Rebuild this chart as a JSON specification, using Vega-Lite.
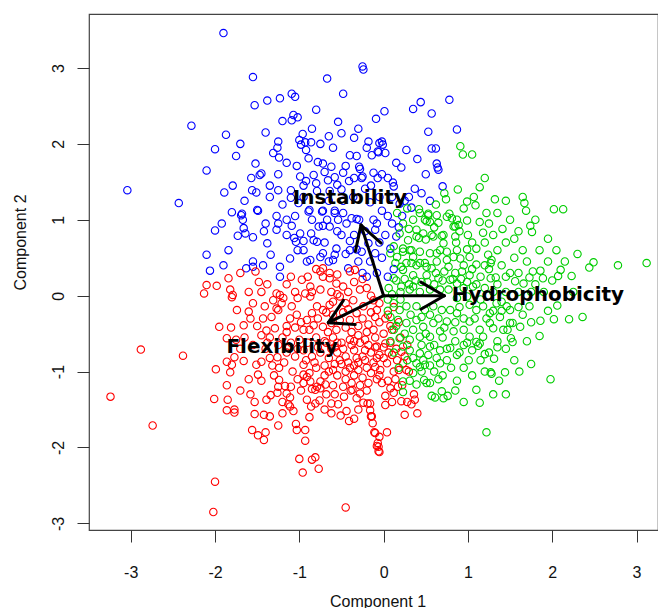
{
"$schema": "https://vega.github.io/schema/vega-lite/v6.json",
"width": 569, "height": 516,
"autosize": {"type": "none"},
"padding": {"left": 89, "top": 14, "right": 0, "bottom": 78},
"background": "white",
"config": {"view": {"stroke": "#444", "strokeWidth": 1.2}},
"encoding": {
  "x": {"field": "x", "type": "quantitative", "scale": {"domain": [-3.495, 3.255], "nice": false, "zero": false},
    "axis": {"values": [-3,-2,-1,0,1,2,3], "labelExpr": "'' + datum.value", "domain": false, "grid": false, "tickSize": 12, "tickColor": "#333", "tickWidth": 1,
      "labelFont": "Liberation Sans", "labelFontSize": 16, "labelColor": "#111", "labelPadding": 22, "labelFlush": false,
      "title": "Component 1", "titleFont": "Liberation Sans", "titleFontSize": 16, "titleFontWeight": "normal", "titleColor": "#111",
      "titleX": 288.5, "titleY": 71, "titleBaseline": "middle", "titleAlign": "center"}},
  "y": {"field": "y", "type": "quantitative", "scale": {"domain": [-3.087, 3.711], "nice": false, "zero": false},
    "axis": {"values": [-3,-2,-1,0,1,2,3], "labelExpr": "'' + datum.value", "domain": false, "grid": false, "tickSize": 12, "tickColor": "#333", "tickWidth": 1,
      "labelFont": "Liberation Sans", "labelFontSize": 16, "labelColor": "#111", "labelAngle": 270, "labelAlign": "center", "labelBaseline": "bottom", "labelPadding": 11, "labelFlush": false,
      "title": "Component 2", "titleFont": "Liberation Sans", "titleFontSize": 16, "titleFontWeight": "normal", "titleColor": "#111",
      "titleAngle": 270, "titleX": -69, "titleY": 228, "titleBaseline": "middle", "titleAlign": "center"}}
},
"layer": [
{
"data": {"values": [
{"g":"b","x":-1.90,"y":3.46},{"g":"b","x":-1.55,"y":2.88},{"g":"b","x":-0.67,"y":2.86},{"g":"b","x":-0.25,"y":3.02},{"g":"b","x":-0.24,"y":2.98},
{"g":"b","x":-0.48,"y":2.66},{"g":"b","x":-1.09,"y":2.66},{"g":"b","x":-1.05,"y":2.62},{"g":"b","x":-1.23,"y":2.60},{"g":"b","x":-1.38,"y":2.57},
{"g":"b","x":-1.53,"y":2.51},{"g":"b","x":-2.28,"y":2.24},{"g":"b","x":-1.07,"y":2.38},{"g":"b","x":-1.09,"y":2.31},{"g":"b","x":-1.02,"y":2.35},
{"g":"b","x":-0.54,"y":2.29},{"g":"b","x":-0.50,"y":2.14},{"g":"b","x":-0.09,"y":2.33},{"g":"b","x":-1.87,"y":2.12},{"g":"b","x":-2.00,"y":1.93},
{"g":"b","x":-1.75,"y":1.84},{"g":"b","x":-1.25,"y":2.03},{"g":"b","x":-1.26,"y":1.95},{"g":"b","x":-1.31,"y":1.88},{"g":"b","x":-1.24,"y":1.82},
{"g":"b","x":-0.96,"y":2.13},{"g":"b","x":-1.00,"y":2.05},{"g":"b","x":-0.93,"y":2.02},{"g":"b","x":-0.86,"y":2.02},{"g":"b","x":-0.98,"y":1.99},
{"g":"b","x":-0.92,"y":1.92},{"g":"b","x":-0.89,"y":1.81},{"g":"b","x":-0.78,"y":1.76},{"g":"b","x":-0.72,"y":1.74},{"g":"b","x":-0.18,"y":2.03},
{"g":"b","x":-0.05,"y":2.01},{"g":"b","x":-0.14,"y":1.85},{"g":"b","x":-0.07,"y":1.90},{"g":"b","x":-0.32,"y":1.84},{"g":"b","x":-0.29,"y":1.70},
{"g":"b","x":-0.28,"y":1.67},{"g":"b","x":-0.45,"y":1.71},{"g":"b","x":-0.48,"y":1.62},{"g":"b","x":-0.25,"y":1.57},{"g":"b","x":-0.26,"y":1.55},
{"g":"b","x":-0.41,"y":1.51},{"g":"b","x":-0.58,"y":1.56},{"g":"b","x":-0.55,"y":1.46},{"g":"b","x":-0.66,"y":1.52},{"g":"b","x":-0.83,"y":1.59},
{"g":"b","x":-0.92,"y":1.51},{"g":"b","x":-0.99,"y":1.57},{"g":"b","x":-1.03,"y":1.71},{"g":"b","x":-1.25,"y":1.60},{"g":"b","x":-1.25,"y":1.39},
{"g":"b","x":-1.52,"y":1.74},{"g":"b","x":-1.45,"y":1.61},{"g":"b","x":-1.47,"y":1.59},{"g":"b","x":-1.57,"y":1.55},{"g":"b","x":-1.79,"y":1.45},
{"g":"b","x":-1.56,"y":1.39},{"g":"b","x":-1.51,"y":1.36},{"g":"b","x":-1.89,"y":1.36},{"g":"b","x":-3.04,"y":1.39},{"g":"b","x":-2.43,"y":1.22},
{"g":"b","x":-1.10,"y":1.39},{"g":"b","x":-1.10,"y":1.29},{"g":"b","x":-1.01,"y":1.22},{"g":"b","x":-0.79,"y":1.38},{"g":"b","x":-0.64,"y":1.38},
{"g":"b","x":-0.22,"y":1.41},{"g":"b","x":-0.16,"y":1.23},{"g":"b","x":-0.48,"y":1.25},{"g":"b","x":-0.36,"y":1.30},{"g":"b","x":-1.50,"y":1.13},
{"g":"b","x":-1.68,"y":1.08},{"g":"b","x":-0.88,"y":1.13},{"g":"b","x":-0.72,"y":1.12},{"g":"b","x":-0.58,"y":1.12},{"g":"b","x":0.78,"y":2.58},
{"g":"b","x":0.44,"y":2.55},{"g":"b","x":0.35,"y":2.46},{"g":"b","x":0.57,"y":2.40},{"g":"b","x":0.01,"y":2.43},{"g":"b","x":0.53,"y":2.16},
{"g":"b","x":0.87,"y":2.19},{"g":"b","x":-0.02,"y":2.03},{"g":"b","x":-0.01,"y":1.99},{"g":"b","x":-0.06,"y":1.89},{"g":"b","x":0.02,"y":1.88},
{"g":"b","x":0.27,"y":1.92},{"g":"b","x":0.57,"y":1.94},{"g":"b","x":0.62,"y":1.94},{"g":"b","x":0.63,"y":1.74},{"g":"b","x":0.64,"y":1.69},
{"g":"b","x":0.65,"y":1.66},{"g":"b","x":0.21,"y":1.69},{"g":"b","x":-0.02,"y":1.60},{"g":"b","x":-0.07,"y":1.55},{"g":"b","x":0.11,"y":1.49},
{"g":"b","x":0.12,"y":1.44},{"g":"b","x":0.37,"y":1.41},{"g":"b","x":0.70,"y":1.44},{"g":"b","x":0.30,"y":1.30},{"g":"b","x":0.33,"y":1.16},
{"g":"b","x":0.19,"y":1.21},{"g":"b","x":-1.69,"y":1.06},{"g":"b","x":-1.67,"y":1.00},{"g":"b","x":-1.66,"y":0.89},{"g":"b","x":-1.64,"y":0.82},
{"g":"b","x":-1.73,"y":0.79},{"g":"b","x":-1.55,"y":0.77},{"g":"b","x":-1.49,"y":1.12},{"g":"b","x":-1.42,"y":0.85},{"g":"b","x":-1.38,"y":0.69},
{"g":"b","x":-1.34,"y":0.54},{"g":"b","x":-1.27,"y":1.05},{"g":"b","x":-1.25,"y":0.95},{"g":"b","x":-1.27,"y":0.87},{"g":"b","x":-1.15,"y":1.00},
{"g":"b","x":-1.09,"y":0.92},{"g":"b","x":-1.06,"y":0.76},{"g":"b","x":-1.04,"y":0.71},{"g":"b","x":-1.02,"y":0.60},{"g":"b","x":-0.99,"y":0.82},
{"g":"b","x":-0.95,"y":0.72},{"g":"b","x":-0.89,"y":1.11},{"g":"b","x":-0.86,"y":0.82},{"g":"b","x":-0.83,"y":0.73},{"g":"b","x":-0.79,"y":0.71},
{"g":"b","x":-0.73,"y":1.11},{"g":"b","x":-0.77,"y":0.91},{"g":"b","x":-0.72,"y":0.92},{"g":"b","x":-0.67,"y":1.00},{"g":"b","x":-0.64,"y":0.91},
{"g":"b","x":-0.58,"y":1.09},{"g":"b","x":-0.54,"y":1.00},{"g":"b","x":-0.48,"y":1.09},{"g":"b","x":-0.44,"y":0.95},{"g":"b","x":-0.38,"y":1.02},
{"g":"b","x":-0.32,"y":1.01},{"g":"b","x":-0.29,"y":1.00},{"g":"b","x":-0.56,"y":0.62},{"g":"b","x":-0.58,"y":0.54},{"g":"b","x":-0.60,"y":0.47},
{"g":"b","x":-0.65,"y":0.45},{"g":"b","x":-0.72,"y":0.56},{"g":"b","x":-0.75,"y":0.51},{"g":"b","x":-0.87,"y":0.47},{"g":"b","x":-0.91,"y":0.45},
{"g":"b","x":-1.11,"y":0.49},{"g":"b","x":-1.23,"y":0.38},{"g":"b","x":-1.23,"y":0.25},{"g":"b","x":-1.43,"y":0.40},{"g":"b","x":-1.55,"y":0.45},
{"g":"b","x":-1.55,"y":0.38},{"g":"b","x":-1.63,"y":0.36},{"g":"b","x":-1.84,"y":0.60},{"g":"b","x":-1.90,"y":0.40},{"g":"b","x":-2.06,"y":0.33},
{"g":"b","x":-2.10,"y":0.54},{"g":"b","x":-2.00,"y":0.86},{"g":"b","x":-1.92,"y":0.95},{"g":"b","x":-0.42,"y":0.36},{"g":"b","x":-0.32,"y":0.61},
{"g":"b","x":-0.26,"y":0.58},{"g":"b","x":-0.18,"y":0.69},{"g":"b","x":-0.16,"y":0.45},{"g":"b","x":-0.10,"y":0.56},{"g":"b","x":-0.12,"y":1.00},
{"g":"b","x":-0.08,"y":0.95},{"g":"b","x":-0.10,"y":0.87},{"g":"b","x":0.05,"y":1.05},{"g":"b","x":0.10,"y":0.95},{"g":"b","x":0.02,"y":0.80},
{"g":"b","x":-0.05,"y":0.70},{"g":"b","x":0.08,"y":0.62},{"g":"b","x":-0.02,"y":0.50},{"g":"b","x":0.12,"y":0.35},{"g":"b","x":0.05,"y":0.25},
{"g":"b","x":-0.08,"y":0.30},{"g":"b","x":-0.20,"y":0.25},{"g":"b","x":0.15,"y":0.78},{"g":"b","x":0.22,"y":1.05},{"g":"b","x":0.18,"y":0.90},
{"g":"b","x":-0.22,"y":0.85},{"g":"b","x":-0.35,"y":0.80},{"g":"b","x":-0.40,"y":0.72},{"g":"b","x":-0.50,"y":0.80},{"g":"b","x":-0.30,"y":0.45},
{"g":"b","x":-0.45,"y":0.55},{"g":"b","x":0.25,"y":1.25},{"g":"b","x":-0.95,"y":1.30},{"g":"b","x":-1.20,"y":1.20},{"g":"b","x":-0.65,"y":1.25},
{"g":"b","x":-0.85,"y":1.00},{"g":"b","x":-1.35,"y":1.30},{"g":"b","x":-0.40,"y":1.85},{"g":"b","x":-0.60,"y":1.95},{"g":"b","x":-0.75,"y":2.00},
{"g":"b","x":-0.20,"y":1.95},{"g":"b","x":-1.15,"y":1.75},{"g":"b","x":-0.70,"y":1.63},{"g":"b","x":-0.12,"y":1.62},{"g":"b","x":-0.35,"y":2.08},
{"g":"b","x":-0.85,"y":2.20},{"g":"b","x":-1.40,"y":2.15},{"g":"b","x":-0.02,"y":1.12},{"g":"b","x":0.10,"y":1.30},
{"g":"b","x":-0.95,"y":1.45},{"g":"b","x":-0.80,"y":1.48},{"g":"b","x":-0.62,"y":1.70},{"g":"b","x":-0.50,"y":1.40},{"g":"b","x":-0.35,"y":1.55},
{"g":"b","x":-0.15,"y":1.45},{"g":"b","x":-0.05,"y":1.30},{"g":"b","x":0.05,"y":1.55},{"g":"b","x":0.15,"y":1.75},{"g":"b","x":0.40,"y":1.80},
{"g":"b","x":0.50,"y":1.60},{"g":"b","x":0.45,"y":1.35},{"g":"b","x":0.55,"y":1.25},{"g":"b","x":-1.35,"y":1.45},{"g":"b","x":-1.65,"y":1.25},
{"g":"b","x":-1.80,"y":1.10},{"g":"b","x":-1.40,"y":0.95},{"g":"b","x":-1.15,"y":0.80},{"g":"b","x":-0.95,"y":0.60},{"g":"b","x":-0.70,"y":0.70},
{"g":"b","x":-0.55,"y":0.85},{"g":"b","x":-0.40,"y":0.60},{"g":"b","x":-0.25,"y":0.30},{"g":"b","x":-1.05,"y":1.05},{"g":"b","x":-0.65,"y":2.10},
{"g":"b","x":-0.30,"y":2.20},{"g":"b","x":-1.20,"y":2.30},{"g":"b","x":-0.80,"y":2.45},{"g":"b","x":-1.70,"y":2.00},{"g":"b","x":-2.10,"y":1.65},
{"g":"r","x":-2.88,"y":-0.71},{"g":"r","x":-2.38,"y":-0.79},{"g":"r","x":-3.24,"y":-1.33},{"g":"r","x":-2.74,"y":-1.71},{"g":"r","x":-2.00,"y":-2.45},
{"g":"r","x":-2.02,"y":-2.85},{"g":"r","x":-0.45,"y":-2.79},{"g":"r","x":-1.99,"y":-0.97},{"g":"r","x":-2.01,"y":-1.36},{"g":"r","x":-1.86,"y":-1.18},
{"g":"r","x":-1.85,"y":-1.37},{"g":"r","x":-1.86,"y":-1.51},{"g":"r","x":-1.77,"y":-1.50},{"g":"r","x":-1.77,"y":-1.54},{"g":"r","x":-1.86,"y":-0.87},
{"g":"r","x":-1.80,"y":-0.91},{"g":"r","x":-1.82,"y":-1.01},{"g":"r","x":-1.77,"y":-0.81},{"g":"r","x":-1.66,"y":-0.86},{"g":"r","x":-1.53,"y":-1.40},
{"g":"r","x":-1.53,"y":-1.56},{"g":"r","x":-1.56,"y":-1.77},{"g":"r","x":-1.49,"y":-1.84},{"g":"r","x":-1.42,"y":-1.90},{"g":"r","x":-1.40,"y":-1.80},
{"g":"r","x":-1.42,"y":-1.57},{"g":"r","x":-1.35,"y":-1.59},{"g":"r","x":-1.39,"y":-1.37},{"g":"r","x":-1.34,"y":-1.31},{"g":"r","x":-1.25,"y":-1.71},
{"g":"r","x":-1.26,"y":-1.28},{"g":"r","x":-1.51,"y":-0.91},{"g":"r","x":-1.45,"y":-0.87},{"g":"r","x":-1.49,"y":-1.04},{"g":"r","x":-1.45,"y":-1.12},
{"g":"r","x":-1.35,"y":-0.82},{"g":"r","x":-1.24,"y":-0.95},{"g":"r","x":-1.24,"y":-1.11},{"g":"r","x":-1.17,"y":-1.19},{"g":"r","x":-1.26,"y":-0.81},
{"g":"r","x":-1.08,"y":-1.00},{"g":"r","x":-1.15,"y":-1.29},{"g":"r","x":-1.11,"y":-1.34},{"g":"r","x":-1.13,"y":-1.43},{"g":"r","x":-1.11,"y":-1.46},
{"g":"r","x":-1.07,"y":-1.52},{"g":"r","x":-1.04,"y":-1.69},{"g":"r","x":-1.03,"y":-1.77},{"g":"r","x":-0.93,"y":-1.77},{"g":"r","x":-0.93,"y":-1.91},
{"g":"r","x":-1.00,"y":-2.15},{"g":"r","x":-0.96,"y":-2.33},{"g":"r","x":-0.85,"y":-2.16},{"g":"r","x":-0.81,"y":-2.13},{"g":"r","x":-0.77,"y":-2.28},
{"g":"r","x":-0.91,"y":-1.37},{"g":"r","x":-0.86,"y":-1.46},{"g":"r","x":-0.81,"y":-1.42},{"g":"r","x":-0.76,"y":-1.38},{"g":"r","x":-0.95,"y":-1.04},
{"g":"r","x":-0.91,"y":-1.07},{"g":"r","x":-0.87,"y":-1.13},{"g":"r","x":-0.85,"y":-1.23},{"g":"r","x":-0.79,"y":-1.20},{"g":"r","x":-0.81,"y":-1.24},
{"g":"r","x":-0.75,"y":-1.13},{"g":"r","x":-0.95,"y":-0.91},{"g":"r","x":-0.69,"y":-1.17},{"g":"r","x":-0.60,"y":-1.18},{"g":"r","x":-0.58,"y":-1.30},
{"g":"r","x":-0.54,"y":-1.43},{"g":"r","x":-0.51,"y":-1.58},{"g":"r","x":-0.44,"y":-1.52},{"g":"r","x":-0.41,"y":-1.65},{"g":"r","x":-0.47,"y":-1.33},
{"g":"r","x":-0.39,"y":-1.25},{"g":"r","x":-0.37,"y":-1.24},{"g":"r","x":-0.28,"y":-1.29},{"g":"r","x":-0.24,"y":-1.41},{"g":"r","x":-0.19,"y":-1.42},
{"g":"r","x":-0.16,"y":-1.51},{"g":"r","x":-0.15,"y":-1.59},{"g":"r","x":-0.13,"y":-1.68},{"g":"r","x":-0.10,"y":-1.81},{"g":"r","x":-0.07,"y":-1.94},
{"g":"r","x":-0.06,"y":-2.05},{"g":"r","x":-0.08,"y":-1.98},{"g":"r","x":0.40,"y":-1.55},{"g":"r","x":0.25,"y":-1.57},{"g":"r","x":0.33,"y":-1.43},
{"g":"r","x":0.37,"y":-1.37},{"g":"r","x":0.36,"y":-1.30},{"g":"r","x":0.21,"y":-1.39},{"g":"r","x":0.10,"y":-1.40},{"g":"r","x":0.02,"y":-1.44},
{"g":"r","x":0.02,"y":-1.32},{"g":"r","x":0.04,"y":-1.80},{"g":"r","x":-0.05,"y":-1.86},{"g":"r","x":-0.06,"y":-1.99},{"g":"r","x":-0.05,"y":-2.06},
{"g":"r","x":-0.11,"y":-1.80},{"g":"r","x":-0.14,"y":-1.59},{"g":"r","x":-0.16,"y":-1.42},{"g":"r","x":0.17,"y":-1.20},{"g":"r","x":0.08,"y":-1.22},
{"g":"r","x":-0.02,"y":-1.15},{"g":"r","x":0.14,"y":-1.10},{"g":"r","x":-0.04,"y":-0.98},{"g":"r","x":-0.10,"y":-0.94},{"g":"r","x":0.04,"y":-0.89},
{"g":"r","x":0.12,"y":-1.00},{"g":"r","x":0.23,"y":-0.89},{"g":"r","x":0.27,"y":-0.98},{"g":"r","x":0.21,"y":-0.74},{"g":"r","x":0.10,"y":-0.78},
{"g":"r","x":0.00,"y":-0.82},{"g":"r","x":-0.08,"y":-0.67},{"g":"r","x":0.02,"y":-0.63},{"g":"r","x":-2.10,"y":0.14},{"g":"r","x":-2.13,"y":0.03},
{"g":"r","x":-1.98,"y":0.13},{"g":"r","x":-1.84,"y":0.23},{"g":"r","x":-1.82,"y":0.08},{"g":"r","x":-1.79,"y":0.01},{"g":"r","x":-1.80,"y":-0.02},
{"g":"r","x":-1.70,"y":0.30},{"g":"r","x":-1.52,"y":0.32},{"g":"r","x":-1.48,"y":0.18},{"g":"r","x":-1.74,"y":-0.19},{"g":"r","x":-1.60,"y":-0.21},
{"g":"r","x":-1.66,"y":-0.39},{"g":"r","x":-1.81,"y":-0.42},{"g":"r","x":-1.95,"y":-0.41},{"g":"r","x":-1.75,"y":-0.58},{"g":"r","x":-1.86,"y":-0.56},
{"g":"r","x":-1.41,"y":-0.14},{"g":"r","x":-1.43,"y":-0.30},{"g":"r","x":-1.33,"y":-0.28},{"g":"r","x":-1.31,"y":-0.06},{"g":"r","x":-1.27,"y":0.03},
{"g":"r","x":-1.23,"y":0.01},{"g":"r","x":-1.19,"y":-0.03},{"g":"r","x":-1.21,"y":-0.10},{"g":"r","x":-1.27,"y":-0.17},{"g":"r","x":-1.25,"y":-0.19},
{"g":"r","x":-1.39,"y":-0.46},{"g":"r","x":-1.29,"y":-0.43},{"g":"r","x":-1.15,"y":-0.40},{"g":"r","x":-1.11,"y":-0.30},{"g":"r","x":-1.03,"y":-0.25},
{"g":"r","x":-1.02,"y":-0.03},{"g":"r","x":-1.09,"y":-0.14},{"g":"r","x":-0.97,"y":0.21},{"g":"r","x":-0.87,"y":0.12},{"g":"r","x":-0.93,"y":0.03},
{"g":"r","x":-0.87,"y":-0.01},{"g":"r","x":-0.75,"y":0.08},{"g":"r","x":-0.72,"y":0.25},{"g":"r","x":-0.64,"y":0.23},{"g":"r","x":-0.56,"y":0.16},
{"g":"r","x":-0.48,"y":0.12},{"g":"r","x":-0.52,"y":-0.01},{"g":"r","x":-0.64,"y":-0.12},{"g":"r","x":-0.72,"y":-0.19},{"g":"r","x":-0.79,"y":-0.14},
{"g":"r","x":-0.85,"y":-0.23},{"g":"r","x":-0.91,"y":-0.32},{"g":"r","x":-0.95,"y":-0.45},{"g":"r","x":-0.83,"y":-0.39},{"g":"r","x":-0.72,"y":-0.41},
{"g":"r","x":-0.62,"y":-0.36},{"g":"r","x":-0.52,"y":-0.32},{"g":"r","x":-0.40,"y":-0.32},{"g":"r","x":-0.32,"y":-0.23},{"g":"r","x":-0.24,"y":-0.14},
{"g":"r","x":-0.36,"y":-0.06},{"g":"r","x":-0.28,"y":0.08},{"g":"r","x":-0.20,"y":0.10},{"g":"r","x":-0.42,"y":0.05},{"g":"r","x":-0.12,"y":-0.06},
{"g":"r","x":-0.08,"y":-0.19},{"g":"r","x":-0.72,"y":0.36},{"g":"r","x":-0.64,"y":0.30},{"g":"r","x":-0.75,"y":0.32},{"g":"r","x":-0.40,"y":0.32},
{"g":"r","x":-0.34,"y":0.34},{"g":"r","x":-1.20,"y":-0.55},{"g":"r","x":-1.10,"y":-0.62},{"g":"r","x":-1.00,"y":-0.58},{"g":"r","x":-0.90,"y":-0.62},
{"g":"r","x":-0.80,"y":-0.55},{"g":"r","x":-0.70,"y":-0.60},{"g":"r","x":-0.60,"y":-0.55},{"g":"r","x":-0.50,"y":-0.62},{"g":"r","x":-0.40,"y":-0.58},
{"g":"r","x":-0.30,"y":-0.52},{"g":"r","x":-0.20,"y":-0.48},{"g":"r","x":-0.10,"y":-0.55},{"g":"r","x":0.00,"y":-0.50},{"g":"r","x":0.10,"y":-0.45},
{"g":"r","x":0.20,"y":-0.55},{"g":"r","x":-1.15,"y":-0.75},{"g":"r","x":-1.05,"y":-0.80},{"g":"r","x":-0.95,"y":-0.72},{"g":"r","x":-0.85,"y":-0.80},
{"g":"r","x":-0.75,"y":-0.75},{"g":"r","x":-0.65,"y":-0.82},{"g":"r","x":-0.55,"y":-0.75},{"g":"r","x":-0.45,"y":-0.80},{"g":"r","x":-0.35,"y":-0.72},
{"g":"r","x":-0.25,"y":-0.80},{"g":"r","x":-0.15,"y":-0.75},{"g":"r","x":-0.05,"y":-0.78},{"g":"r","x":0.15,"y":-0.70},{"g":"r","x":0.28,"y":-0.65},
{"g":"r","x":-0.70,"y":-0.92},{"g":"r","x":-0.60,"y":-0.98},{"g":"r","x":-0.50,"y":-0.90},{"g":"r","x":-0.40,"y":-0.95},{"g":"r","x":-0.30,"y":-0.88},
{"g":"r","x":-0.20,"y":-0.95},{"g":"r","x":-0.12,"y":-0.88},{"g":"r","x":-0.35,"y":-1.05},{"g":"r","x":-0.25,"y":-1.08},{"g":"r","x":-0.15,"y":-1.02},
{"g":"r","x":-0.45,"y":-1.10},{"g":"r","x":-0.55,"y":-1.05},{"g":"r","x":-0.05,"y":-1.05},{"g":"r","x":0.05,"y":-1.12},{"g":"r","x":-0.62,"y":-0.70},
{"g":"r","x":-0.38,"y":-0.65},{"g":"r","x":-0.18,"y":-0.65},{"g":"r","x":-0.28,"y":-0.62},{"g":"r","x":0.08,"y":-0.62},{"g":"r","x":-0.48,"y":-0.70},
{"g":"r","x":-0.32,"y":-0.82},{"g":"r","x":-0.22,"y":-0.72},{"g":"r","x":-0.42,"y":-0.88},{"g":"r","x":-0.52,"y":-0.85},{"g":"r","x":-0.58,"y":-0.68},
{"g":"r","x":-0.30,"y":-0.98},{"g":"r","x":-0.10,"y":-0.68},{"g":"r","x":-0.66,"y":-0.48},{"g":"r","x":-0.45,"y":-0.42},{"g":"r","x":-0.18,"y":-0.38},
{"g":"r","x":-0.05,"y":-0.35},{"g":"r","x":0.05,"y":-0.25},{"g":"r","x":0.12,"y":-0.15},{"g":"r","x":-1.05,"y":-0.42},{"g":"r","x":-0.88,"y":-0.45},
{"g":"r","x":-0.60,"y":-0.25},{"g":"r","x":-0.42,"y":-0.18},{"g":"r","x":-0.15,"y":-0.22},{"g":"r","x":-0.05,"y":-0.10},{"g":"r","x":0.02,"y":-0.30},
{"g":"r","x":0.18,"y":-0.35},{"g":"r","x":0.25,"y":-0.80},{"g":"r","x":0.30,"y":-1.00},{"g":"r","x":0.22,"y":-1.18},{"g":"r","x":-0.70,"y":-1.05},
{"g":"r","x":-0.80,"y":-0.95},{"g":"r","x":-1.02,"y":-1.10},{"g":"r","x":-0.98,"y":-1.25},{"g":"r","x":-0.68,"y":-1.30},{"g":"r","x":-0.62,"y":-1.42},
{"g":"r","x":-0.32,"y":-1.35},{"g":"r","x":-0.48,"y":-1.20},{"g":"r","x":-1.20,"y":-1.40},{"g":"r","x":-1.30,"y":-1.05},{"g":"r","x":-1.40,"y":-0.70},
{"g":"r","x":-1.55,"y":-0.65},{"g":"r","x":-1.60,"y":-1.10},{"g":"r","x":-1.70,"y":-1.25},{"g":"r","x":-1.65,"y":-0.55},{"g":"r","x":-1.50,"y":-0.40},
{"g":"r","x":-1.35,"y":-0.55},{"g":"r","x":-1.15,"y":0.15},{"g":"r","x":-1.05,"y":0.05},{"g":"r","x":-0.55,"y":0.02},{"g":"r","x":-0.30,"y":-0.40},
{"g":"r","x":-0.90,"y":0.25},
{"g":"r","x":-1.25,"y":-0.65},{"g":"r","x":-1.12,"y":-0.68},{"g":"r","x":-1.02,"y":-0.70},{"g":"r","x":-0.92,"y":-0.85},{"g":"r","x":-0.82,"y":-0.88},
{"g":"r","x":-0.78,"y":-0.68},{"g":"r","x":-0.68,"y":-0.62},{"g":"r","x":-0.55,"y":-0.62},{"g":"r","x":-0.35,"y":-0.60},{"g":"r","x":-0.22,"y":-0.58},
{"g":"r","x":-0.12,"y":-0.45},{"g":"r","x":0.00,"y":-0.68},{"g":"r","x":0.06,"y":-0.75},{"g":"r","x":0.16,"y":-0.85},{"g":"r","x":0.18,"y":-0.98},
{"g":"r","x":-0.08,"y":-1.10},{"g":"r","x":-0.18,"y":-1.15},{"g":"r","x":-0.28,"y":-1.18},{"g":"r","x":-0.38,"y":-1.15},{"g":"r","x":-0.22,"y":-0.85},
{"g":"r","x":-0.08,"y":-0.82},{"g":"r","x":-0.35,"y":-0.92},{"g":"r","x":-0.45,"y":-1.00},{"g":"r","x":-0.58,"y":-0.90},{"g":"r","x":-0.65,"y":-1.00},
{"g":"r","x":-0.75,"y":-1.22},{"g":"r","x":-0.88,"y":-1.02},{"g":"r","x":-1.18,"y":-0.88},{"g":"r","x":-1.32,"y":-0.92},{"g":"r","x":-1.10,"y":-1.20},
{"g":"r","x":-0.95,"y":-1.15},{"g":"r","x":-1.38,"y":-0.62},{"g":"r","x":-1.15,"y":-0.48},{"g":"r","x":-0.98,"y":-0.35},{"g":"r","x":-0.78,"y":-0.30},
{"g":"r","x":-0.68,"y":-0.22},{"g":"r","x":-0.48,"y":-0.22},{"g":"r","x":-0.56,"y":-0.45},{"g":"r","x":-0.38,"y":-0.48},{"g":"r","x":-0.25,"y":-0.30},
{"g":"r","x":-0.10,"y":-0.28},{"g":"r","x":0.08,"y":-0.40},{"g":"r","x":-0.85,"y":0.05},{"g":"r","x":-0.62,"y":0.05},{"g":"r","x":-0.35,"y":0.18},
{"g":"r","x":-0.15,"y":0.00},{"g":"r","x":-0.60,"y":-0.08},{"g":"r","x":-0.45,"y":-0.10},{"g":"r","x":-1.45,"y":0.05},{"g":"r","x":-1.60,"y":0.05},
{"g":"r","x":-1.55,"y":-0.10},{"g":"r","x":-1.38,"y":0.15},{"g":"r","x":-1.10,"y":0.25},{"g":"r","x":-0.80,"y":0.35},{"g":"r","x":-0.55,"y":0.28},
{"g":"r","x":-0.25,"y":0.22},{"g":"r","x":-1.58,"y":-0.30},{"g":"r","x":-1.45,"y":-0.52},{"g":"r","x":-1.70,"y":-0.70},{"g":"r","x":-1.25,"y":-1.20},
{"g":"r","x":-0.62,"y":-1.55},{"g":"r","x":-0.30,"y":-1.50},{"g":"r","x":-0.35,"y":-1.62},{"g":"r","x":-0.70,"y":-1.50},{"g":"r","x":-0.88,"y":-1.60},
{"g":"r","x":-1.20,"y":-1.55},{"g":"r","x":-1.58,"y":-1.30},{"g":"r","x":-0.20,"y":-1.25},{"g":"r","x":0.12,"y":-1.28},{"g":"r","x":0.28,"y":-1.40},
{"g":"g","x":0.91,"y":1.97},{"g":"g","x":0.94,"y":1.86},{"g":"g","x":1.05,"y":1.86},{"g":"g","x":1.14,"y":1.43},{"g":"g","x":0.72,"y":1.35},
{"g":"g","x":0.74,"y":1.27},{"g":"g","x":1.07,"y":1.30},{"g":"g","x":0.99,"y":1.24},{"g":"g","x":1.09,"y":1.19},{"g":"g","x":1.32,"y":1.27},
{"g":"g","x":1.65,"y":1.30},{"g":"g","x":1.67,"y":1.22},{"g":"g","x":1.69,"y":1.12},{"g":"g","x":2.02,"y":1.14},{"g":"g","x":2.13,"y":1.14},
{"g":"g","x":0.42,"y":1.14},{"g":"g","x":0.53,"y":1.08},{"g":"g","x":0.78,"y":1.08},{"g":"g","x":1.22,"y":1.09},{"g":"g","x":1.35,"y":1.09},
{"g":"g","x":1.14,"y":0.97},{"g":"g","x":1.18,"y":0.83},{"g":"g","x":1.41,"y":0.88},{"g":"g","x":1.74,"y":0.92},{"g":"g","x":1.76,"y":0.84},
{"g":"g","x":2.49,"y":0.44},{"g":"g","x":2.44,"y":0.37},{"g":"g","x":2.78,"y":0.40},{"g":"g","x":3.12,"y":0.43},{"g":"g","x":2.10,"y":0.34},
{"g":"g","x":2.07,"y":0.26},{"g":"g","x":2.23,"y":0.26},{"g":"g","x":1.86,"y":0.33},{"g":"g","x":1.89,"y":0.23},{"g":"g","x":1.77,"y":0.32},
{"g":"g","x":1.73,"y":0.24},{"g":"g","x":1.66,"y":0.16},{"g":"g","x":1.56,"y":0.19},{"g":"g","x":1.27,"y":0.23},{"g":"g","x":1.33,"y":0.24},
{"g":"g","x":1.24,"y":0.54},{"g":"g","x":1.28,"y":0.47},{"g":"g","x":1.27,"y":0.43},{"g":"g","x":1.10,"y":0.41},{"g":"g","x":0.77,"y":0.38},
{"g":"g","x":2.06,"y":-0.13},{"g":"g","x":2.36,"y":-0.28},{"g":"g","x":2.20,"y":-0.31},{"g":"g","x":2.02,"y":-0.31},{"g":"g","x":1.86,"y":-0.33},
{"g":"g","x":1.85,"y":-0.53},{"g":"g","x":1.73,"y":-0.14},{"g":"g","x":1.62,"y":-0.41},{"g":"g","x":1.53,"y":-0.36},{"g":"g","x":1.47,"y":-0.45},
{"g":"g","x":1.51,"y":-0.56},{"g":"g","x":1.53,"y":-0.61},{"g":"g","x":1.98,"y":-1.10},{"g":"g","x":1.61,"y":-1.00},{"g":"g","x":1.44,"y":-1.01},
{"g":"g","x":1.37,"y":-1.12},{"g":"g","x":1.27,"y":-1.01},{"g":"g","x":1.28,"y":-1.03},{"g":"g","x":1.31,"y":-0.83},{"g":"g","x":1.35,"y":-0.68},
{"g":"g","x":1.20,"y":-0.77},{"g":"g","x":1.01,"y":-0.85},{"g":"g","x":0.87,"y":-1.12},{"g":"g","x":1.10,"y":-1.24},{"g":"g","x":1.14,"y":-1.41},
{"g":"g","x":1.22,"y":-1.80},{"g":"g","x":0.65,"y":-1.10},{"g":"g","x":0.55,"y":-1.15},{"g":"g","x":0.51,"y":-1.15},{"g":"g","x":0.48,"y":-1.11},
{"g":"g","x":0.31,"y":-1.12},{"g":"g","x":0.39,"y":-1.17},{"g":"g","x":0.23,"y":-1.27},{"g":"g","x":0.69,"y":-1.26},{"g":"g","x":0.57,"y":-1.32},
{"g":"g","x":0.61,"y":-1.34},{"g":"g","x":0.71,"y":-1.35},{"g":"g","x":0.76,"y":-1.32},{"g":"g","x":0.53,"y":1.06},{"g":"g","x":0.49,"y":1.00},
{"g":"g","x":0.55,"y":0.97},{"g":"g","x":0.65,"y":0.96},{"g":"g","x":0.81,"y":1.02},{"g":"g","x":0.87,"y":1.00},{"g":"g","x":0.89,"y":0.93},
{"g":"g","x":0.99,"y":0.99},{"g":"g","x":0.85,"y":0.91},{"g":"g","x":0.39,"y":0.87},{"g":"g","x":0.42,"y":0.76},{"g":"g","x":0.50,"y":0.74},
{"g":"g","x":0.57,"y":0.80},{"g":"g","x":0.69,"y":0.79},{"g":"g","x":0.71,"y":0.69},{"g":"g","x":0.85,"y":0.78},{"g":"g","x":0.86,"y":0.70},
{"g":"g","x":0.87,"y":0.60},{"g":"g","x":0.99,"y":0.61},{"g":"g","x":1.02,"y":0.51},{"g":"g","x":0.23,"y":0.62},{"g":"g","x":0.31,"y":0.60},
{"g":"g","x":0.35,"y":0.51},{"g":"g","x":0.16,"y":0.51},{"g":"g","x":0.08,"y":0.56},{"g":"g","x":0.27,"y":0.43},{"g":"g","x":0.39,"y":0.40},
{"g":"g","x":0.49,"y":0.43},{"g":"g","x":0.57,"y":0.36},{"g":"g","x":0.63,"y":0.56},{"g":"g","x":0.75,"y":0.58},{"g":"g","x":0.91,"y":0.49},
{"g":"g","x":0.95,"y":0.40},{"g":"g","x":0.93,"y":0.32},{"g":"g","x":1.02,"y":0.27},{"g":"g","x":0.99,"y":0.18},{"g":"g","x":1.06,"y":0.12},
{"g":"g","x":0.87,"y":0.16},{"g":"g","x":0.79,"y":0.21},{"g":"g","x":0.65,"y":0.23},{"g":"g","x":0.51,"y":0.27},{"g":"g","x":0.35,"y":0.27},
{"g":"g","x":0.23,"y":0.34},{"g":"g","x":0.12,"y":0.23},{"g":"g","x":0.21,"y":0.12},{"g":"g","x":0.31,"y":0.08},{"g":"g","x":0.43,"y":0.05},
{"g":"g","x":0.55,"y":0.08},{"g":"g","x":0.67,"y":0.08},{"g":"g","x":0.77,"y":0.08},{"g":"g","x":0.87,"y":-0.03},{"g":"g","x":0.99,"y":-0.01},
{"g":"g","x":1.02,"y":-0.12},{"g":"g","x":1.10,"y":-0.19},{"g":"g","x":1.18,"y":-0.14},{"g":"g","x":1.26,"y":-0.23},{"g":"g","x":1.34,"y":-0.10},
{"g":"g","x":1.40,"y":-0.08},{"g":"g","x":1.46,"y":-0.14},{"g":"g","x":1.50,"y":-0.19},{"g":"g","x":1.38,"y":-0.28},{"g":"g","x":1.26,"y":-0.36},
{"g":"g","x":1.14,"y":-0.45},{"g":"g","x":1.02,"y":-0.34},{"g":"g","x":0.95,"y":-0.30},{"g":"g","x":0.87,"y":-0.23},{"g":"g","x":0.79,"y":-0.19},
{"g":"g","x":0.69,"y":-0.19},{"g":"g","x":0.59,"y":-0.14},{"g":"g","x":0.49,"y":-0.19},{"g":"g","x":0.39,"y":-0.14},{"g":"g","x":0.27,"y":-0.14},
{"g":"g","x":0.19,"y":-0.19},{"g":"g","x":0.12,"y":-0.10},{"g":"g","x":0.08,"y":-0.28},{"g":"g","x":0.17,"y":-0.32},{"g":"g","x":0.27,"y":-0.36},
{"g":"g","x":0.39,"y":-0.32},{"g":"g","x":0.47,"y":-0.41},{"g":"g","x":0.59,"y":-0.36},{"g":"g","x":0.67,"y":-0.47},{"g":"g","x":0.75,"y":-0.34},
{"g":"g","x":0.83,"y":-0.47},{"g":"g","x":0.95,"y":-0.45},{"g":"g","x":1.02,"y":-0.54},{"g":"g","x":1.10,"y":-0.61},{"g":"g","x":1.18,"y":-0.54},
{"g":"g","x":1.30,"y":-0.43},{"g":"g","x":1.42,"y":-0.45},{"g":"g","x":1.50,"y":-0.36},{"g":"g","x":0.55,"y":-0.54},{"g":"g","x":0.43,"y":-0.54},
{"g":"g","x":0.31,"y":-0.58},{"g":"g","x":0.19,"y":-0.56},{"g":"g","x":0.12,"y":-0.45},{"g":"g","x":0.79,"y":-0.69},{"g":"g","x":0.87,"y":-0.78},
{"g":"g","x":0.95,"y":-0.65},{"g":"g","x":0.99,"y":-0.62},{"g":"g","x":1.12,"y":-0.66},{"g":"g","x":1.14,"y":-0.63},{"g":"g","x":0.67,"y":-0.72},
{"g":"g","x":0.63,"y":-0.82},{"g":"g","x":0.53,"y":-0.78},{"g":"g","x":0.47,"y":-0.85},{"g":"g","x":0.43,"y":-0.76},{"g":"g","x":0.39,"y":-0.89},
{"g":"g","x":0.35,"y":-0.82},{"g":"g","x":0.31,"y":-0.72},{"g":"g","x":0.23,"y":-0.67},{"g":"g","x":0.55,"y":-0.67},{"g":"g","x":0.75,"y":-0.85},
{"g":"g","x":0.67,"y":-0.89},{"g":"g","x":0.43,"y":-0.94},{"g":"g","x":0.49,"y":-0.91},{"g":"g","x":0.35,"y":-1.02},{"g":"g","x":0.23,"y":-1.13},
{"g":"g","x":0.16,"y":1.09},{"g":"g","x":0.23,"y":0.95},{"g":"g","x":0.35,"y":1.00},{"g":"g","x":0.43,"y":1.09},{"g":"g","x":0.51,"y":0.98},
{"g":"g","x":0.63,"y":1.06},{"g":"g","x":0.75,"y":1.04},{"g":"g","x":0.83,"y":0.91},{"g":"g","x":0.19,"y":0.82},{"g":"g","x":0.29,"y":0.73},
{"g":"g","x":0.39,"y":0.78},{"g":"g","x":0.47,"y":0.82},{"g":"g","x":0.59,"y":0.78},{"g":"g","x":0.71,"y":0.80},{"g":"g","x":0.12,"y":0.65},
{"g":"g","x":0.23,"y":0.58},{"g":"g","x":0.33,"y":0.60},{"g":"g","x":0.43,"y":0.58},{"g":"g","x":0.55,"y":0.56},{"g":"g","x":0.67,"y":0.60},
{"g":"g","x":0.14,"y":0.43},{"g":"g","x":0.21,"y":0.38},{"g":"g","x":0.33,"y":0.43},{"g":"g","x":0.43,"y":0.43},{"g":"g","x":0.51,"y":0.38},
{"g":"g","x":0.63,"y":0.45},{"g":"g","x":0.75,"y":0.47},{"g":"g","x":0.83,"y":0.51},{"g":"g","x":0.06,"y":0.10},{"g":"g","x":0.10,"y":0.02},
{"g":"g","x":0.15,"y":0.20},{"g":"g","x":0.05,"y":-0.05},{"g":"g","x":0.25,"y":0.22},{"g":"g","x":0.30,"y":0.15},{"g":"g","x":0.38,"y":0.20},
{"g":"g","x":0.45,"y":0.18},{"g":"g","x":0.60,"y":0.15},{"g":"g","x":0.70,"y":0.20},{"g":"g","x":0.85,"y":0.30},{"g":"g","x":0.95,"y":0.10},
{"g":"g","x":1.05,"y":0.35},{"g":"g","x":1.15,"y":0.25},{"g":"g","x":1.20,"y":0.10},{"g":"g","x":1.15,"y":-0.05},{"g":"g","x":1.30,"y":0.05},
{"g":"g","x":1.45,"y":0.05},{"g":"g","x":1.60,"y":0.05},{"g":"g","x":1.25,"y":0.35},{"g":"g","x":1.40,"y":0.40},{"g":"g","x":1.50,"y":0.30},
{"g":"g","x":1.35,"y":0.60},{"g":"g","x":1.45,"y":0.70},{"g":"g","x":1.55,"y":0.50},{"g":"g","x":1.65,"y":0.60},{"g":"g","x":1.20,"y":0.70},
{"g":"g","x":1.00,"y":0.80},{"g":"g","x":1.10,"y":0.62},{"g":"g","x":0.95,"y":1.15},{"g":"g","x":1.25,"y":0.95},{"g":"g","x":1.50,"y":1.00},
{"g":"g","x":1.60,"y":0.85},{"g":"g","x":1.85,"y":0.60},{"g":"g","x":1.95,"y":0.45},{"g":"g","x":2.30,"y":0.55},{"g":"g","x":1.75,"y":0.05},
{"g":"g","x":1.90,"y":0.05},{"g":"g","x":2.25,"y":0.05},{"g":"g","x":1.65,"y":-0.25},{"g":"g","x":1.35,"y":-0.60},{"g":"g","x":1.25,"y":-0.75},
{"g":"g","x":0.85,"y":-0.60},{"g":"g","x":0.70,"y":-0.55},{"g":"g","x":0.60,"y":-0.65},{"g":"g","x":0.50,"y":-0.50},{"g":"g","x":0.35,"y":-0.45},
{"g":"g","x":0.25,"y":-0.50},{"g":"g","x":0.45,"y":-1.00},{"g":"g","x":0.60,"y":-1.00},{"g":"g","x":0.80,"y":-0.95},{"g":"g","x":0.95,"y":-0.95},
{"g":"g","x":1.05,"y":-1.05},{"g":"g","x":1.20,"y":-1.00},{"g":"g","x":0.12,"y":-0.75},{"g":"g","x":0.08,"y":-0.60},{"g":"g","x":0.15,"y":-0.40},
{"g":"g","x":0.05,"y":-0.20},
{"g":"g","x":0.20,"y":0.05},{"g":"g","x":0.35,"y":0.12},{"g":"g","x":0.52,"y":0.18},{"g":"g","x":0.62,"y":0.30},{"g":"g","x":0.72,"y":0.32},
{"g":"g","x":0.82,"y":0.22},{"g":"g","x":0.92,"y":0.22},{"g":"g","x":1.10,"y":0.15},{"g":"g","x":1.20,"y":0.40},{"g":"g","x":1.35,"y":0.15},
{"g":"g","x":1.45,"y":0.25},{"g":"g","x":1.60,"y":0.30},{"g":"g","x":1.70,"y":0.45},{"g":"g","x":1.80,"y":0.15},{"g":"g","x":2.00,"y":0.20},
{"g":"g","x":2.15,"y":0.45},{"g":"g","x":1.95,"y":0.75},{"g":"g","x":2.05,"y":0.60},{"g":"g","x":1.55,"y":0.75},{"g":"g","x":1.30,"y":0.80},
{"g":"g","x":1.05,"y":0.70},{"g":"g","x":0.90,"y":0.85},{"g":"g","x":0.60,"y":0.90},{"g":"g","x":0.30,"y":0.88},{"g":"g","x":0.28,"y":1.15},
{"g":"g","x":0.62,"y":1.20},{"g":"g","x":0.88,"y":1.40},{"g":"g","x":1.20,"y":1.55},{"g":"g","x":1.45,"y":1.25},{"g":"g","x":1.80,"y":1.00},
{"g":"g","x":0.20,"y":-0.05},{"g":"g","x":0.32,"y":-0.25},{"g":"g","x":0.45,"y":-0.28},{"g":"g","x":0.55,"y":-0.25},{"g":"g","x":0.65,"y":-0.30},
{"g":"g","x":0.72,"y":-0.42},{"g":"g","x":0.85,"y":-0.35},{"g":"g","x":0.90,"y":-0.15},{"g":"g","x":1.08,"y":-0.30},{"g":"g","x":1.22,"y":-0.30},
{"g":"g","x":1.30,"y":-0.20},{"g":"g","x":1.40,"y":-0.20},{"g":"g","x":1.60,"y":-0.15},{"g":"g","x":1.75,"y":-0.35},{"g":"g","x":1.95,"y":-0.20},
{"g":"g","x":1.70,"y":-0.60},{"g":"g","x":1.45,"y":-0.70},{"g":"g","x":1.55,"y":-0.85},{"g":"g","x":1.15,"y":-0.85},{"g":"g","x":1.05,"y":-0.72},
{"g":"g","x":0.90,"y":-0.75},{"g":"g","x":0.75,"y":-0.70},{"g":"g","x":0.45,"y":-0.65},{"g":"g","x":0.28,"y":-0.85},{"g":"g","x":0.18,"y":-0.95},
{"g":"g","x":0.55,"y":-0.92},{"g":"g","x":0.70,"y":-1.05},{"g":"g","x":0.85,"y":-1.25},{"g":"g","x":0.95,"y":-1.40},{"g":"g","x":1.45,"y":-1.30},
{"g":"g","x":1.75,"y":-0.90},{"g":"g","x":1.30,"y":-1.30}
]},
"mark": {"type": "point", "shape": "circle", "filled": false, "size": 55, "strokeWidth": 1.1, "opacity": 1},
"encoding": {
  "color": {"field": "g", "type": "nominal", "scale": {"domain": ["b","r","g"], "range": ["#0000FF","#FF0000","#00CD00"]}, "legend": null}
}
},
{
"data": {"values": [
{"x":0,"y":0,"x2":0.72,"y2":0},{"x":0,"y":0,"x2":-0.268,"y2":0.93},{"x":0,"y":0,"x2":-0.656,"y2":-0.356},
{"x":0.72,"y":0,"x2":0.442,"y2":0.178},{"x":0.72,"y":0,"x2":0.442,"y2":-0.178},
{"x":-0.268,"y":0.93,"x2":-0.335,"y2":0.584},{"x":-0.268,"y":0.93,"x2":-0.030,"y2":0.693},
{"x":-0.656,"y":-0.356,"x2":-0.337,"y2":-0.381},{"x":-0.656,"y":-0.356,"x2":-0.477,"y2":-0.061}
]},
"mark": {"type": "rule", "color": "#000", "strokeWidth": 3, "strokeCap": "round"},
"encoding": {"x2": {"field": "x2"}, "y2": {"field": "y2"}}
},
{
"data": {"values": [
{"t":"Instability","x":-0.40,"y":1.29},{"t":"Flexibility","x":-1.205,"y":-0.672},{"t":"Hydrophobicity","x":1.83,"y":0.01}
]},
"mark": {"type": "text", "font": "DejaVu Sans", "fontWeight": "bold", "fontSize": 20, "color": "#000", "align": "center", "baseline": "middle"},
"encoding": {"text": {"field": "t"}}
}
]
}
